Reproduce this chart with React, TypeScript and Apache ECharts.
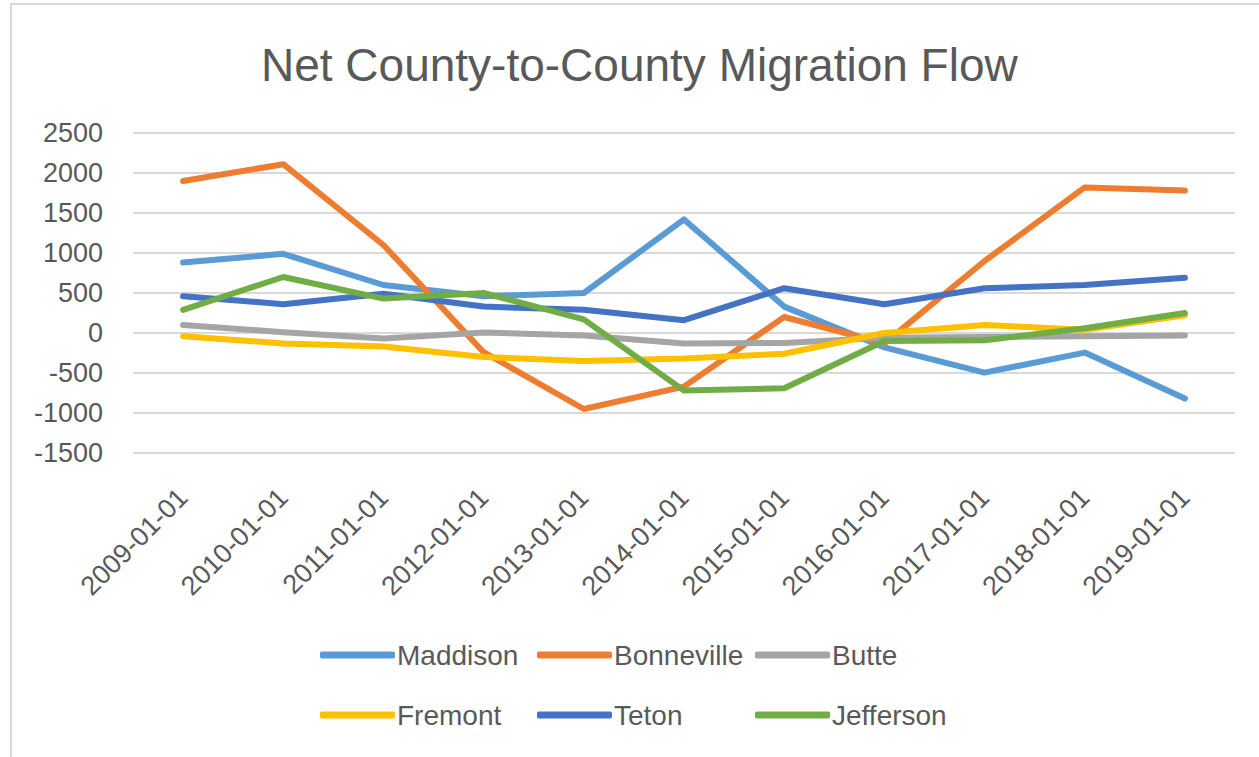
import React, { useEffect, useRef } from "react";
import * as echarts from "echarts";

const categories = [
  "2009-01-01", "2010-01-01", "2011-01-01", "2012-01-01", "2013-01-01", "2014-01-01",
  "2015-01-01", "2016-01-01", "2017-01-01", "2018-01-01", "2019-01-01",
];
const maddison = [880, 990, 600, 460, 500, 1420, 330, -180, -495, -245, -820];
const bonneville = [1900, 2110, 1100, -240, -950, -670, 200, -130, 900, 1820, 1780];
const butte = [100, 10, -70, 5, -30, -130, -125, -60, -50, -40, -30];
const fremont = [-40, -130, -170, -300, -350, -320, -260, 0, 100, 40, 220];
const teton = [460, 360, 490, 330, 290, 160, 560, 360, 560, 600, 690];
const jefferson = [290, 700, 430, 500, 170, -720, -690, -100, -90, 60, 250];

const seriesNames = ["Maddison", "Bonneville", "Butte", "Fremont", "Teton", "Jefferson"];
const seriesValues = [maddison, bonneville, butte, fremont, teton, jefferson];
const seriesColors = ["#5B9BD5", "#ED7D31", "#A5A5A5", "#FFC000", "#4472C4", "#70AD47"];
const yTicks = { min: -1500, max: 2500, interval: 500 };

const FONT = "'Liberation Sans', Arial, sans-serif";
const TEXT = "#595959";

export default function App() {
  const ref = useRef<HTMLDivElement>(null);
  useEffect(() => {
    if (!ref.current) return;
    const chart = echarts.init(ref.current, undefined, { renderer: "svg" });
    const legendPos = [
      [320, 641], [537, 641], [755, 641],
      [320, 701], [537, 701], [755, 701],
    ];
    chart.setOption({
      animation: false,
      backgroundColor: "#ffffff",
      title: {
        text: "Net County-to-County Migration Flow",
        left: 261,
        top: 42,
        padding: 0,
        textStyle: { fontFamily: FONT, fontSize: 46, fontWeight: "normal", color: TEXT },
      },
      graphic: [
        {
          type: "rect",
          shape: { x: 11, y: 4, width: 1300, height: 800 },
          style: { fill: "none", stroke: "#d9d9d9", lineWidth: 2 },
          silent: true,
        },
      ],
      legend: seriesNames.map((name, i) => ({
        data: [name],
        left: legendPos[i][0],
        top: legendPos[i][1],
        icon: "roundRect",
        itemWidth: 75,
        itemHeight: 7,
        itemGap: 0,
        padding: 0,
        textStyle: { fontFamily: FONT, fontSize: 28, color: TEXT, padding: [0, 0, 0, -3] },
      })),
      grid: { left: 133, right: 24, top: 133, bottom: 304, containLabel: false },
      xAxis: {
        type: "category",
        data: categories,
        boundaryGap: true,
        axisLine: { show: false },
        axisTick: { show: false },
        axisLabel: {
          rotate: 45,
          margin: 40,
          interval: 0,
          fontFamily: FONT,
          fontSize: 27,
          color: TEXT,
        },
      },
      yAxis: {
        type: "value",
        min: yTicks.min,
        max: yTicks.max,
        interval: yTicks.interval,
        axisLine: { show: false },
        axisTick: { show: false },
        splitLine: { lineStyle: { color: "#d9d9d9", width: 2 } },
        axisLabel: {
          margin: 30,
          fontFamily: FONT,
          fontSize: 27,
          color: TEXT,
          formatter: (v: number) => String(v),
        },
      },
      series: seriesNames.map((name, i) => ({
        name,
        type: "line",
        data: seriesValues[i],
        symbol: "none",
        color: seriesColors[i],
        lineStyle: { width: 6, color: seriesColors[i], cap: "round", join: "round" },
      })),
    });
    return () => chart.dispose();
  }, []);
  return (
    <div
      ref={ref}
      style={{ position: "fixed", left: 0, top: 0, width: 1259, height: 757 }}
    />
  );
}
